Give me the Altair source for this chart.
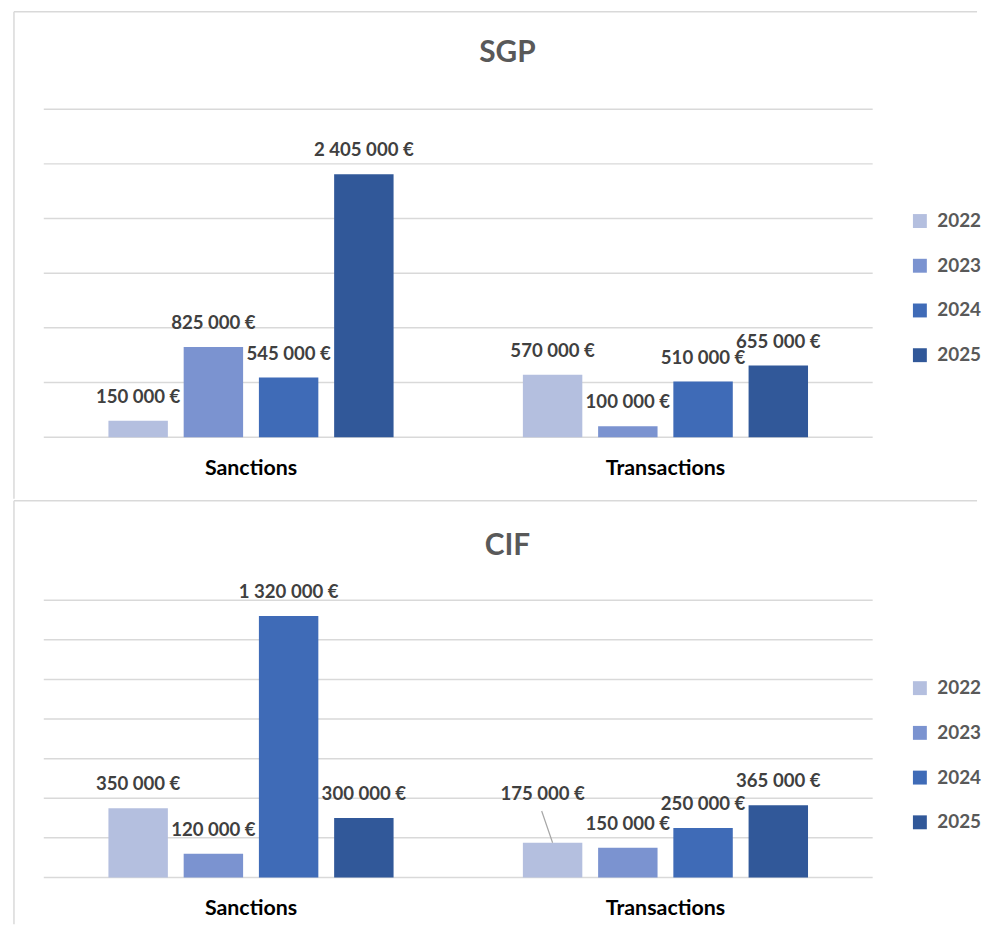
import altair as alt
import pandas as pd

YEARS = ["2022", "2023", "2024", "2025"]
CATEGORIES = ["Sanctions", "Transactions"]
SGP_SANCTIONS = [150000, 825000, 545000, 2405000]
SGP_TRANSACTIONS = [570000, 100000, 510000, 655000]
CIF_SANCTIONS = [350000, 120000, 1320000, 300000]
CIF_TRANSACTIONS = [175000, 150000, 250000, 365000]
SGP_TICKS = [0, 500000, 1000000, 1500000, 2000000, 2500000, 3000000]
CIF_TICKS = [0, 200000, 400000, 600000, 800000, 1000000, 1200000, 1400000]
COLORS = ["#B4BFDF", "#7B93D0", "#3F6BB7", "#315899"]

FONT = "Lato"
W = 969
X_RANGE = [30, 864]
PAD_INNER = 0.312
PAD_OUTER = 0.156
SUB_PAD = 0.21


def fmt(v):
    return f"{v:,}".replace(",", "\u00a0") + "\u00a0€"


def panel(name, sanc, trans, ticks, height, y_range, legend_y, title_offset, displaced=None):
    rows = []
    for cat, vals in zip(CATEGORIES, [sanc, trans]):
        for yr, v in zip(YEARS, vals):
            rows.append({"cat": cat, "year": yr, "value": v, "label": fmt(v)})
    df = pd.DataFrame(rows)
    ymax = ticks[-1]
    yscale = alt.Scale(domain=[0, ymax], range=y_range, nice=False, zero=True)
    xscale = alt.Scale(domain=CATEGORIES, range=X_RANGE, paddingInner=PAD_INNER, paddingOuter=PAD_OUTER)
    xo = alt.XOffset("year:N", sort=YEARS, scale=alt.Scale(domain=YEARS, paddingInner=SUB_PAD, paddingOuter=0))
    X = alt.X("cat:N", sort=CATEGORIES, scale=xscale, axis=None)
    Y = alt.Y("value:Q", scale=yscale, axis=None)

    base = alt.Chart(df)

    grid = alt.Chart(pd.DataFrame({"value": ticks})).mark_rule(
        color="#d9d9d9", strokeWidth=1.5
    ).encode(y=Y, x=alt.value(X_RANGE[0]), x2=alt.value(X_RANGE[1]))

    border_top = alt.Chart(pd.DataFrame({"b": [0]})).mark_rule(
        color="#d9d9d9", strokeWidth=1.5
    ).encode(x=alt.value(0), x2=alt.value(W), y=alt.value(0))
    border_left = alt.Chart(pd.DataFrame({"b": [0]})).mark_rule(
        color="#d9d9d9", strokeWidth=1.5
    ).encode(x=alt.value(0), y=alt.value(0), y2=alt.value(height))

    bars = base.mark_bar().encode(
        x=X, xOffset=xo, y=Y,
        color=alt.Color(
            "year:N", sort=YEARS,
            scale=alt.Scale(domain=YEARS, range=COLORS),
            legend=alt.Legend(
                title=None, orient="none", legendX=902, legendY=legend_y,
                symbolType="square", symbolSize=196, symbolStrokeWidth=0,
                labelFont=FONT, labelFontWeight="bold", labelFontSize=19,
                labelColor="#595959", rowPadding=25, labelOffset=8, padding=0,
            ),
        ),
    )

    if displaced:
        cond = f"datum.cat == '{displaced[0]}' && datum.year == '{displaced[1]}'"
        normal = base.transform_filter(f"!({cond})")
        special = base.transform_filter(cond)
    else:
        normal = base
        special = None

    labels = normal.mark_text(
        font=FONT, fontWeight="bold", fontSize=18.7, color="#404040",
        baseline="middle", dy=-24,
    ).encode(x=X, xOffset=xo, y=Y, text="label:N")

    cats = alt.Chart(pd.DataFrame({"cat": CATEGORIES, "value": [0, 0]})).mark_text(
        font=FONT, fontWeight="bold", fontSize=21.5, color="#000000",
        baseline="middle", dy=32,
    ).encode(x=X, y=Y, text="cat:N")

    layers = [border_top, border_left, grid, bars, labels, cats]

    if special is not None:
        # offset of the displaced bar's centre from its category centre
        step = (X_RANGE[1] - X_RANGE[0]) / (len(CATEGORIES) - PAD_INNER + 2 * PAD_OUTER)
        band = step * (1 - PAD_INNER)
        sub = band / (len(YEARS) - SUB_PAD)
        idx = YEARS.index(displaced[1])
        off = (idx - (len(YEARS) - 1) / 2) * sub
        leader = special.mark_rule(
            color="#a6a6a6", strokeWidth=1.2,
            xOffset=off, x2Offset=off - 11, y2Offset=-32,
        ).encode(
            x=X, x2=alt.X2("cat:N"), y=Y, y2=alt.Y2("value:Q"),
        )
        sp_label = special.mark_text(
            font=FONT, fontWeight="bold", fontSize=18.7, color="#404040",
            baseline="middle", dx=-10, dy=-49,
        ).encode(x=X, xOffset=xo, y=Y, text="label:N")
        layers += [leader, sp_label]

    return alt.layer(*layers).properties(
        width=W, height=height,
        title=alt.TitleParams(
            name, font=FONT, fontSize=30, fontWeight="bold", color="#595959",
            anchor="middle", frame="group", offset=title_offset,
            baseline="alphabetic", dx=12,
        ),
    )


sgp = panel("SGP", SGP_SANCTIONS, SGP_TRANSACTIONS, SGP_TICKS, 490, [428, 98], 201, -81)
cif = panel("CIF", CIF_SANCTIONS, CIF_TRANSACTIONS, CIF_TICKS, 426, [379, 100], 179, -85,
            displaced=("Transactions", "2022"))

chart = alt.vconcat(sgp, cif, spacing=0).resolve_scale(
    x="independent", y="independent", color="independent"
).resolve_legend(color="independent").properties(
    padding={"left": 5, "top": 0, "right": 0, "bottom": 0}
).configure_view(stroke=None)

chart.save("out.html", embed_options={"renderer": "svg", "actions": False})
